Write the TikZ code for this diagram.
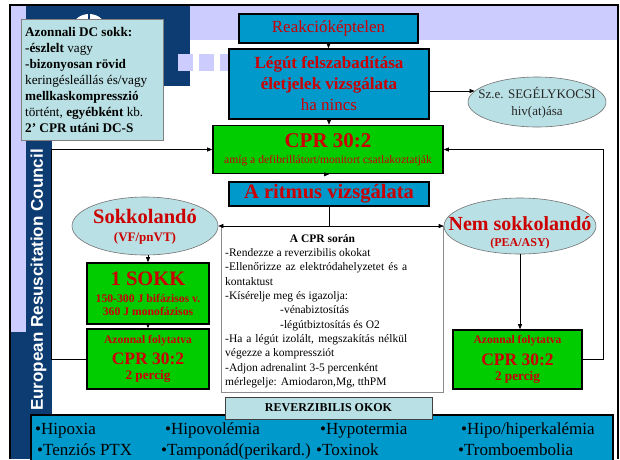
\documentclass[tikz,border=0pt]{standalone}
\usepackage{fontspec}
\setmainfont{Liberation Serif}
\newfontfamily\ercfont{Liberation Sans}
\usetikzlibrary{arrows.meta,shapes.geometric}
\definecolor{lav}{RGB}{204,204,255}
\definecolor{ercblue}{RGB}{12,60,114}
\definecolor{boxblue}{RGB}{0,153,204}
\definecolor{boxgreen}{RGB}{0,204,0}
\definecolor{lcyan}{RGB}{185,224,228}
\definecolor{txtred}{RGB}{204,0,0}
\newcommand\fsz[2]{\fontsize{#1}{#2}\selectfont}
\begin{document}
\begin{tikzpicture}[x=1pt,y=-1pt,
  >={Triangle[length=5pt,width=4pt]},
  bluebox/.style={draw=black, line width=1.6pt, fill=boxblue, text=txtred, inner sep=0pt, align=center},
  greenbox/.style={draw=black, line width=1.6pt, fill=boxgreen, text=txtred, inner sep=0pt, align=center},
  cyanell/.style={ellipse, draw=black!55, line width=0.6pt, fill=lcyan, inner sep=0pt},
  elltext/.style={align=center, inner sep=0pt},
  conn/.style={draw=black, line width=0.6pt},
  arr/.style={conn, ->},
  bartext/.style={anchor=base west, inner sep=0pt, font=\fsz{17}{20}},
]
% background
\useasboundingbox (0,0) rectangle (620,459);
\fill[white] (0,0) rectangle (620,459);
\fill[lav] (10,5) rectangle (618,40);
\fill[lav] (10,5) rectangle (26,332);
\fill[ercblue] (26,5) rectangle (190,86);
\fill[ercblue] (26,86) rectangle (52,459);
\fill[ercblue] (10,332) rectangle (26,459);
\foreach \x in {178,199,220} \fill[lav] (\x,54) rectangle ++(15,17);
\fill[white] (89,31) ellipse [x radius=18, y radius=17];
\draw[ercblue, line width=2pt] (89,12) -- (89,22);
\node[rotate=90, text=white, font=\ercfont\bfseries\fsz{17}{20}, inner sep=0pt] (erc) at (38.5,280) {European Resuscitation Council};

% DC box
\node[draw=black!50, line width=0.6pt, fill=lcyan, minimum width=142pt, minimum height=121pt, anchor=north west, inner sep=0pt] (dc) at (21,19) {};
\node[anchor=north west, align=left, inner sep=0pt, font=\fsz{13.2}{16}] (dctext) at (25,27.5) {\textbf{Azonnali DC sokk:}\\
\textbf{-észlelt} vagy\\
\textbf{-bizonyosan rövid}\\
keringésleállás és/vagy\\
\textbf{mellkaskompresszió}\\
történt, \textbf{egyébként} kb.\\
\textbf{2’ CPR utáni DC-S}};

% main flow
\node[bluebox, minimum width=179pt, minimum height=29pt, font=\fsz{17}{20}] (reak) at (328.5,28.5) {Reakcióképtelen};
\node[bluebox, minimum width=200pt, minimum height=70pt, font=\fsz{17}{21}] (legut) at (329,84) {\textbf{Légút felszabadítása}\\\textbf{életjelek vizsgálata}\\ha nincs};
\node[cyanell, minimum width=138pt, minimum height=50pt] (seg) at (537,102) {};
\node[elltext, text=black!85, font=\fsz{13}{16.5}] (segtext) at (537,103) {Sz.e. SEGÉLYKOCSI\\hiv(at)ása};
\node[greenbox, minimum width=230pt, minimum height=48pt, font=\fsz{11.6}{16}] (cpr) at (328,149.5) {{\fsz{21}{24}\bfseries CPR 30:2}\\amíg a defibrillátort/monitort csatlakoztatják};
\node[bluebox, minimum width=200pt, minimum height=24pt, font=\fsz{20.5}{24}\bfseries] (ritmus) at (329,194) {A ritmus vizsgálata};

\node[cyanell, minimum width=146pt, minimum height=58pt] (sokk) at (145,226) {};
\node[elltext, text=txtred, font=\fsz{13}{17.5}\bfseries] (sokktext) at (145,227) {{\fsz{20.5}{22}Sokkolandó}\\(VF/pnVT)};
\node[cyanell, minimum width=152pt, minimum height=56pt] (nem) at (520,226) {};
\node[elltext, text=txtred, font=\fsz{12}{15.5}\bfseries] (nemtext) at (520,233) {{\fsz{20}{22}Nem sokkolandó}\\(PEA/ASY)};

\node[greenbox, minimum width=122pt, minimum height=61pt, font=\fsz{11.7}{13}\bfseries] (sokk1) at (148,293.5) {{\fsz{20.5}{22}1 SOKK}\\[4pt]150-300 J bifázisos v.\\360 J monofázisos};
\node[greenbox, minimum width=122pt, minimum height=60pt, font=\fsz{11.6}{13}\bfseries] (lcpr) at (148,359) {Azonnal folytatva\\[6.5pt]{\fsz{17.5}{20}CPR 30:2}\\[2pt]{\fsz{13.2}{15}2 percig}};
\node[greenbox, minimum width=129pt, minimum height=59pt, font=\fsz{11.6}{13}\bfseries] (rcpr) at (517.5,359.5) {Azonnal folytatva\\[6.5pt]{\fsz{17.5}{20}CPR 30:2}\\[2pt]{\fsz{13.2}{15}2 percig}};

% during CPR box
\node[draw=black!45, line width=0.6pt, fill=white, minimum width=222pt, minimum height=166pt, inner sep=0pt] (dur) at (332,309) {};
\node[inner sep=0pt, font=\fsz{11.5}{14}\bfseries] (durtitle) at (322.5,239) {A CPR során};
\node[anchor=north west, inner sep=0pt, text width=182pt, align=justify, font=\fsz{11.5}{14.3}] (durtext) at (225,248.5) {-Rendezze a reverzibilis okokat\newline
-Ellenőrizze az elektródahelyzetet és a\linebreak
kontaktust\newline
-Kísérelje meg és igazolja:\newline
\hspace*{55pt}-vénabiztosítás\newline
\hspace*{55pt}-légútbiztosítás és O2\newline
-Ha a légút izolált, megszakítás nélkül\linebreak
végezze a kompressziót\newline
-Adjon adrenalint 3-5 percenként\newline
mérlegelje: Amiodaron,Mg, tthPM};

% connectors
\draw[arr] (reak.south) -- (reak.south |- legut.north);
\draw[arr] (legut.south) -- (legut.south |- cpr.north);
\draw[arr] (legut.east |- seg.170) -- (seg.170);
\draw[arr] (cpr.south) -- (cpr.south -| ritmus.north);
\draw[conn] (ritmus.south) -- (ritmus.south |- sokk.east);
\draw[conn, <->] (sokk.east) -- (sokk.east -| nem.west);
\draw[arr] (sokk1.north |- sokk.south) -- (sokk1.north);
\draw[arr] (sokk1.south) -- (lcpr.north);
\draw[arr] (nem.south) -- (nem.south |- rcpr.north);
\draw[arr] (lcpr.west) -- ++(-35,0) |- (cpr.west);
\draw[arr] (rcpr.east) -- ++(20,0) |- (cpr.east);

% reversible causes
\node[draw=black, line width=1.5pt, fill=boxblue, anchor=north west, minimum width=582pt, minimum height=60pt, inner sep=0pt] (bar) at (30,414) {};
\node[draw=black!75, line width=1pt, fill=lcyan, minimum width=207pt, minimum height=22pt, inner sep=0pt, font=\fsz{12}{14}\bfseries] (rev) at (328.5,408) {REVERZIBILIS OKOK};
\node[bartext] (h1) at (35,434) {•Hipoxia};
\node[bartext] (h2) at (165,434) {•Hipovolémia};
\node[bartext] (h3) at (320,434) {•Hypotermia};
\node[bartext] (h4) at (461,434) {•Hipo/hiperkalémia};
\node[bartext] (h5) at (37,455) {•Tenziós PTX};
\node[bartext] (h6) at (161,455) {•Tamponád(perikard.)};
\node[bartext] (h7) at (316,455) {•Toxinok};
\node[bartext] (h8) at (458,455) {•Tromboembolia};

% slide border
\draw[black, line width=2pt] (10,459) -- (10,5) -- (618,5) -- (618,459);
\end{tikzpicture}
\end{document}
